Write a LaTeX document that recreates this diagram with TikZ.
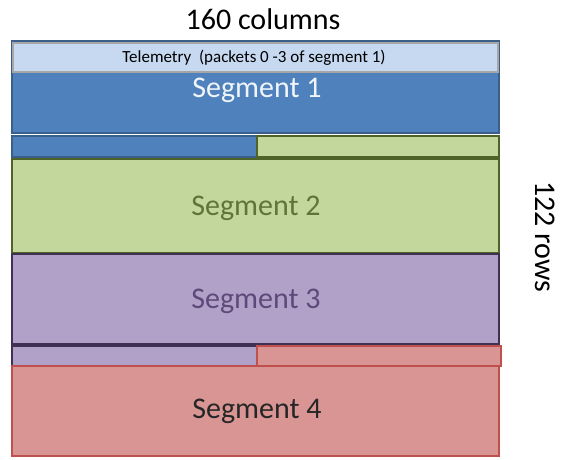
\documentclass[tikz,border=0pt]{standalone}
\usepackage{fontspec}
\setmainfont{Carlito}
\definecolor{blueF}{HTML}{4F81BD}
\definecolor{blueD}{HTML}{3A5F8B}
\definecolor{teleF}{HTML}{C6D9F1}
\definecolor{teleD}{HTML}{A6A6A6}
\definecolor{greenF}{HTML}{C3D69B}
\definecolor{greenD}{HTML}{4F6228}
\definecolor{purpF}{HTML}{B1A0C7}
\definecolor{purpD}{HTML}{3F3151}
\definecolor{purpT}{HTML}{5F497A}
\definecolor{redF}{HTML}{D99594}
\definecolor{redD}{HTML}{C0504D}
\tikzset{
  seg/.style={rectangle, inner sep=0pt, outer sep=0pt, line width=2pt, anchor=north west},
  lbl/.style={font=\fontsize{30}{34}\selectfont, inner sep=0pt}
}
\begin{document}
\begin{tikzpicture}[x=1pt,y=-1pt]
\useasboundingbox (0,0) rectangle (565,459);
% Segment 1 (with telemetry on top)
\node[seg, fill=blueF, draw=blueD, minimum width=487, minimum height=92] (s1) at (12,41) {};
\node[seg, fill=teleF, draw=teleD, line width=2.5pt, minimum width=485, minimum height=29] (tel) at (13,43) {};
\node[font=\fontsize{17}{20}\selectfont, inner sep=0pt] (telt) at (254,57.5) {Telemetry\ \ (packets 0 -3 of segment 1)};
\node[lbl, text=white!92!blueF] (s1t) at (257,90) {Segment 1};
% strip 1
\node[seg, fill=blueF, draw=blueD, minimum width=245, minimum height=21] (s1b) at (12,136) {};
\node[seg, fill=greenF, draw=greenD, minimum width=242, minimum height=21] (s2a) at (257,136) {};
% Segment 2
\node[seg, fill=greenF, draw=greenD, minimum width=487, minimum height=94] (s2) at (12,159) {};
\node[lbl, text=greenD!85!greenF] (s2t) at (256,208) {Segment 2};
% Segment 3
\node[seg, fill=purpF, draw=purpD, minimum width=487, minimum height=90] (s3) at (12,254) {};
\node[lbl, text=purpT] (s3t) at (256,301) {Segment 3};
% strip 2
\node[seg, fill=purpF, draw=purpD, minimum width=245, minimum height=20] (s3b) at (12,346) {};
\node[seg, fill=redF, draw=redD, minimum width=244, minimum height=20] (s4a) at (257,346) {};
% Segment 4
\node[seg, fill=redF, draw=redD, minimum width=487, minimum height=90] (s4) at (12,366) {};
\node[lbl, text=black!85] (s4t) at (257,411) {Segment 4};
% labels
\node[lbl] (cols) at (263,19) {160 columns};
\node[lbl, rotate=-90] (rows) at (545,237) {122 rows};
\end{tikzpicture}
\end{document}
